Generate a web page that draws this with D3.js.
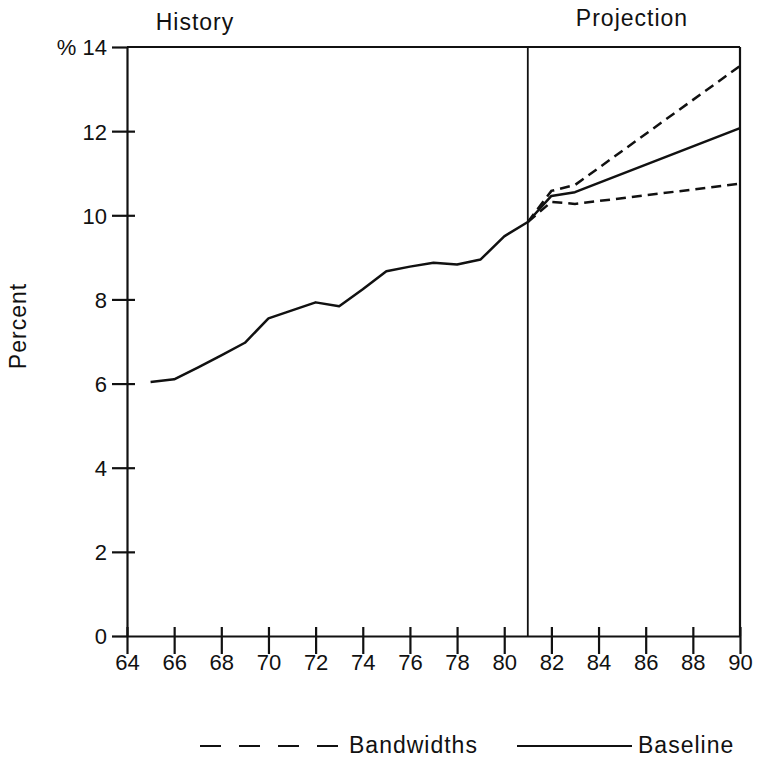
<!DOCTYPE html>
<html><head><meta charset="utf-8">
<script src="https://cdn.jsdelivr.net/npm/d3@7"></script>
<style>body{margin:0;background:#fff}svg{display:block}text{font-family:"Liberation Sans",Arial,sans-serif;fill:#111}</style>
</head><body><svg id="c" width="760" height="765"></svg>
<script>
const historyYears = [65,66,67,68,69,70,71,72,73,74,75,76,77,78,79,80,81];
const historyValues = [6.04,6.10,6.38,6.67,6.97,7.55,7.74,7.93,7.84,8.24,8.67,8.78,8.87,8.83,8.95,9.50,9.84];
const projYears = [81,82,83,90];
const baselineValues = [9.84,10.46,10.55,12.07];
const upperValues = [9.84,10.58,10.72,13.55];
const lowerValues = [9.84,10.32,10.27,10.75];
const xTicks = [64,66,68,70,72,74,76,78,80,82,84,86,88,90];
const yTicks = [0,2,4,6,8,10,12,14];

const svg = d3.select("#c");
const x = d3.scaleLinear().domain([64,90]).range([127,740]);
const y = d3.scaleLinear().domain([0,14]).range([636,47]);
const ink = "#111";

// frame
svg.append("line").attr("x1",x(64)).attr("x2",x(90)).attr("y1",y(14)).attr("y2",y(14)).attr("stroke",ink).attr("stroke-width",2);
svg.append("line").attr("x1",x(90)).attr("x2",x(90)).attr("y1",y(14)).attr("y2",y(0)).attr("stroke",ink).attr("stroke-width",2.2);
svg.append("line").attr("x1",x(81)).attr("x2",x(81)).attr("y1",y(14)).attr("y2",y(0)).attr("stroke",ink).attr("stroke-width",1.8);

// y axis
const ya = svg.append("g").attr("transform",`translate(${x(64)},0)`)
  .call(d3.axisLeft(y).tickValues(yTicks).tickSize(0).tickFormat(d=> d===14 ? "% 14" : d));
ya.select(".domain").attr("stroke",ink).attr("stroke-width",2.2);
ya.selectAll(".tick text").attr("x",-20).attr("font-size",22).attr("dy","0.36em");
ya.selectAll(".tick").append("line").attr("x1",-15).attr("x2",d=> d===14||d===0 ? 0 : 8).attr("stroke",ink).attr("stroke-width",2.2);

// x axis
const xa = svg.append("g").attr("transform",`translate(0,${y(0)})`)
  .call(d3.axisBottom(x).tickValues(xTicks).tickSize(0).tickFormat(d=>d));
xa.select(".domain").attr("stroke",ink).attr("stroke-width",2.2);
xa.selectAll(".tick text").attr("y",18).attr("font-size",22).attr("dy","0.71em");
xa.selectAll(".tick").append("line").attr("y1",-9).attr("y2",18).attr("stroke",ink).attr("stroke-width",2.2);

// lines
const line = d3.line().x(d=>x(d[0])).y(d=>y(d[1]));
svg.append("path").datum(historyYears.map((d,i)=>[d,historyValues[i]])).attr("d",line)
  .attr("fill","none").attr("stroke",ink).attr("stroke-width",2.5).attr("stroke-linejoin","round");
svg.append("path").datum(projYears.map((d,i)=>[d,baselineValues[i]])).attr("d",line)
  .attr("fill","none").attr("stroke",ink).attr("stroke-width",2.5).attr("stroke-linejoin","round");
[upperValues,lowerValues].forEach(v=>{
  svg.append("path").datum(projYears.map((d,i)=>[d,v[i]])).attr("d",line)
    .attr("fill","none").attr("stroke",ink).attr("stroke-width",2.5).attr("stroke-dasharray","10,6");
});

// labels
svg.append("text").attr("x",195).attr("y",30).attr("text-anchor","middle").attr("font-size",23).attr("letter-spacing",1).text("History");
svg.append("text").attr("x",632).attr("y",26).attr("text-anchor","middle").attr("font-size",23).attr("letter-spacing",1).text("Projection");
svg.append("text").attr("transform","translate(26,326) rotate(-90)").attr("text-anchor","middle").attr("font-size",23).attr("letter-spacing",1).text("Percent");

// legend
svg.append("line").attr("x1",200).attr("x2",340).attr("y1",746).attr("y2",746).attr("stroke",ink).attr("stroke-width",1.8).attr("stroke-dasharray","21,18");
svg.append("text").attr("x",349).attr("y",753).attr("font-size",23).attr("letter-spacing",1).text("Bandwidths");
svg.append("line").attr("x1",517).attr("x2",632).attr("y1",746).attr("y2",746).attr("stroke",ink).attr("stroke-width",1.8);
svg.append("text").attr("x",638).attr("y",753).attr("font-size",23).attr("letter-spacing",1).text("Baseline");
</script></body></html>
